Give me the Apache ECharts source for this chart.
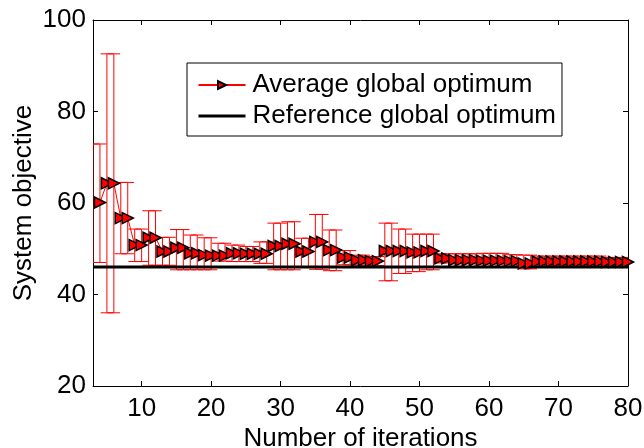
<!DOCTYPE html>
<html>
<head>
<meta charset="utf-8">
<script src="https://cdn.jsdelivr.net/npm/echarts@6/dist/echarts.min.js"></script>
<style>
  html, body { margin: 0; padding: 0; background: #fff; }
  #chart { width: 644px; height: 448px; }
</style>
</head>
<body>
<div id="chart"></div>
<script>
// Iteration index of each recorded run statistic
const iterations = [
  3, 4, 5, 6, 7, 8, 9, 10, 11, 12, 13, 14, 15, 16, 17, 18, 19, 20,
  21, 22, 23, 24, 25, 26, 27, 28, 29, 30, 31, 32, 33, 34, 35, 36, 37, 38, 39, 40,
  41, 42, 43, 44, 45, 46, 47, 48, 49, 50, 51, 52, 53, 54, 55, 56, 57, 58, 59, 60,
  61, 62, 63, 64, 65, 66, 67, 68, 69, 70, 71, 72, 73, 74, 75, 76, 77, 78, 79, 80
];

// Mean of the best system objective found (no mean recorded at iteration 3)
const avgObjective = [
  null, 60.1, 64.3, 64.3, 56.7, 56.7, 50.8, 50.8, 52.4, 52.4, 49.4, 49.4, 50.2, 50.2, 49.0, 49.0, 48.6, 48.5,
  48.5, 48.5, 49.0, 49.0, 48.9, 48.9, 48.9, 48.9, 50.6, 50.6, 51.1, 51.1, 49.4, 49.4, 51.5, 51.5, 49.7, 49.7, 48.1, 48.1,
  47.5, 47.5, 47.3, 47.3, 49.5, 49.5, 49.5, 49.5, 49.2, 49.2, 49.5, 49.5, 47.9, 47.9, 47.5, 47.5, 47.5, 47.5, 47.4, 47.4,
  47.4, 47.4, 47.3, 47.3, 46.8, 46.8, 47.2, 47.2, 47.2, 47.2, 47.2, 47.2, 47.2, 47.2, 47.2, 47.2, 47.1, 47.1, 47.1, 47.1
];

// Lower and upper ends of the spread across runs
const lowerBound = [
  47.0, 47.0, 36.0, 36.0, 48.9, 48.9, 47.2, 47.2, 46.4, 46.4, 46.4, 46.4, 45.4, 45.4, 45.4, 45.4, 45.4, 45.4,
  47.3, 47.3, 47.2, 47.2, 47.2, 47.2, 46.8, 46.8, 45.4, 45.4, 45.4, 45.4, 46.0, 46.0, 45.5, 45.5, 45.2, 45.2, 46.5, 46.5,
  46.4, 46.4, 46.3, 46.3, 43.0, 43.0, 44.6, 44.6, 45.0, 45.0, 45.4, 45.4, 46.9, 46.9, 46.1, 46.1, 46.1, 46.1, 45.9, 45.9,
  45.9, 45.9, 46.0, 46.0, 45.6, 45.6, 46.0, 46.0, 46.0, 46.0, 46.0, 46.0, 46.0, 46.0, 46.0, 46.0, 46.1, 46.1, 46.1, 46.1
];
const upperBound = [
  72.9, 72.9, 92.6, 92.6, 64.5, 64.5, 54.3, 54.3, 58.3, 58.3, 52.5, 52.5, 54.2, 54.2, 53.0, 53.0, 52.4, 52.4,
  51.2, 51.2, 50.8, 50.8, 50.5, 50.5, 51.5, 51.5, 55.6, 55.6, 55.9, 55.9, 52.3, 52.3, 57.5, 57.5, 54.1, 54.1, 49.6, 49.6,
  48.6, 48.6, 48.3, 48.3, 55.6, 55.6, 54.3, 54.3, 53.2, 53.2, 53.2, 53.2, 48.9, 48.9, 48.9, 48.9, 48.9, 48.9, 49.0, 49.0,
  49.0, 49.0, 48.7, 48.7, 48.6, 48.6, 48.4, 48.4, 48.4, 48.4, 48.4, 48.4, 48.4, 48.4, 48.4, 48.4, 48.1, 48.1, 48.1, 48.1
];

// Known global optimum of the system objective
const referenceOptimum = 46.0;

// Axis ticks
const xTicks = [10, 20, 30, 40, 50, 60, 70, 80];
const xRange = [3, 80];
const yRange = [20, 100];
const yStep = 20;

const seriesNames = ['Average global optimum', 'Reference global optimum'];

const FONT = '"Liberation Sans", Arial, Helvetica, sans-serif';
const FONT_SIZE = 26;
const RED = '#ff0000';
const CAP_HALF = 0.9; // error bar cap half-width, in iterations

const meanData = iterations.map((x, i) => [x, avgObjective[i]]);
const errData = iterations.map((x, i) => [x, lowerBound[i], upperBound[i]]);
const refData = [[xRange[0], referenceOptimum], [xRange[1], referenceOptimum]];

function renderErrorBar(params, api) {
  const x = api.value(0);
  const lo = api.coord([x, api.value(1)]);
  const hi = api.coord([x, api.value(2)]);
  const capL = api.coord([x - CAP_HALF, api.value(1)])[0];
  const capR = api.coord([x + CAP_HALF, api.value(1)])[0];
  const style = { stroke: RED, lineWidth: 1, fill: null };
  return {
    type: 'group',
    children: [
      { type: 'line', shape: { x1: lo[0], y1: lo[1], x2: hi[0], y2: hi[1] }, style },
      { type: 'line', shape: { x1: capL, y1: hi[1], x2: capR, y2: hi[1] }, style },
      { type: 'line', shape: { x1: capL, y1: lo[1], x2: capR, y2: lo[1] }, style }
    ]
  };
}

const axisCommon = {
  axisLine: { show: true, onZero: false, lineStyle: { color: '#000', width: 1 } },
  axisTick: { show: true, inside: true, length: 5, lineStyle: { color: '#000', width: 1 } },
  splitLine: { show: false }
};

const chart = echarts.init(document.getElementById('chart'), null, { renderer: 'canvas' });

chart.setOption({
  animation: false,
  backgroundColor: '#fff',
  grid: { left: 93, top: 20, right: 16, bottom: 62, containLabel: false, outerBoundsMode: 'none' },
  legend: {
    data: [
      { name: seriesNames[0] },
      { name: seriesNames[1], itemStyle: { opacity: 0 }, lineStyle: { width: 3, color: '#000' } }
    ],
    orient: 'vertical',
    left: 187,
    top: 63,
    backgroundColor: '#fff',
    borderColor: '#000',
    borderWidth: 1,
    borderRadius: 0,
    padding: [9, 6, 7, 10],
    itemWidth: 47,
    itemHeight: 10,
    itemGap: 5,
    selectedMode: false,
    textStyle: { fontFamily: FONT, fontSize: FONT_SIZE, color: '#000', lineHeight: 25, padding: [0, 0, 0, 2] }
  },
  xAxis: [
    Object.assign({}, axisCommon, {
      type: 'value', position: 'bottom', min: xRange[0], max: xRange[1],
      name: 'Number of iterations', nameLocation: 'middle', nameGap: 40, nameMoveOverlap: false,
      nameTextStyle: { fontFamily: FONT, fontSize: FONT_SIZE, color: '#000' },
      axisTick: Object.assign({}, axisCommon.axisTick, { customValues: xTicks }),
      axisLabel: { customValues: xTicks, fontFamily: FONT, fontSize: FONT_SIZE, color: '#000', margin: 10 }
    }),
    Object.assign({}, axisCommon, {
      type: 'value', position: 'top', min: xRange[0], max: xRange[1],
      axisTick: Object.assign({}, axisCommon.axisTick, { customValues: xTicks }),
      axisLabel: { show: false }
    })
  ],
  yAxis: [
    Object.assign({}, axisCommon, {
      type: 'value', position: 'left', min: yRange[0], max: yRange[1], interval: yStep,
      name: 'System objective', nameLocation: 'middle', nameGap: 56, nameMoveOverlap: false,
      nameTextStyle: { fontFamily: FONT, fontSize: FONT_SIZE, color: '#000' },
      axisLabel: { fontFamily: FONT, fontSize: FONT_SIZE, color: '#000', margin: 7 }
    }),
    Object.assign({}, axisCommon, {
      type: 'value', position: 'right', min: yRange[0], max: yRange[1], interval: yStep,
      axisLabel: { show: false }
    })
  ],
  series: [
    {
      type: 'custom',
      name: 'spread',
      xAxisIndex: 0, yAxisIndex: 0,
      data: errData,
      renderItem: renderErrorBar,
      clip: true,
      silent: true,
      z: 2
    },
    {
      type: 'line',
      name: seriesNames[1],
      xAxisIndex: 0, yAxisIndex: 0,
      data: refData,
      symbol: 'none',
      lineStyle: { color: '#000', width: 3 },
      itemStyle: { color: '#000' },
      silent: true,
      z: 3
    },
    {
      type: 'line',
      name: seriesNames[0],
      xAxisIndex: 0, yAxisIndex: 0,
      data: meanData,
      symbol: 'triangle',
      symbolRotate: -90,
      symbolSize: 11,
      showAllSymbol: true,
      connectNulls: false,
      lineStyle: { color: RED, width: 1 },
      itemStyle: { color: RED, borderColor: '#000', borderWidth: 1.5 },
      silent: true,
      z: 4
    }
  ]
});
</script>
</body>
</html>
